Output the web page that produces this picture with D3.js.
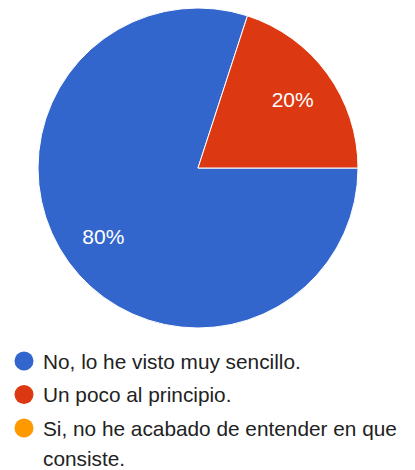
<!DOCTYPE html>
<html>
<head>
<meta charset="utf-8">
<script src="https://cdn.jsdelivr.net/npm/d3@7"></script>
<style>
  html, body { margin: 0; padding: 0; background: #fff; }
  svg { display: block; }
</style>
</head>
<body>
<svg id="chart" width="415" height="470"></svg>
<script>
// Survey answers and their shares (percent)
const categories = [
  "No, lo he visto muy sencillo.",
  "Un poco al principio.",
  "Si, no he acabado de entender en que consiste."
];
const values = [80, 20, 0];
const colors = ["#3366cc", "#dc3912", "#ff9900"];
// Legend lines (the last answer wraps onto two lines)
const legendLines = [
  ["No, lo he visto muy sencillo."],
  ["Un poco al principio."],
  ["Si, no he acabado de entender en que", "consiste."]
];

const svg = d3.select("#chart");
const cx = 198, cy = 168, R = 160, labelR = 117;
const font = "'Liberation Sans', Arial, sans-serif";

const data = categories.map((c, i) => ({ name: c, value: values[i], color: colors[i] }));

// Pie starts at 3 o'clock and runs clockwise
const pie = d3.pie()
  .value(d => d.value)
  .sort(null)
  .startAngle(Math.PI / 2)
  .endAngle(Math.PI / 2 + 2 * Math.PI);

const arcs = pie(data).filter(a => a.data.value > 0);
const arc = d3.arc().innerRadius(0).outerRadius(R);
const labelArc = d3.arc().innerRadius(labelR).outerRadius(labelR);

const g = svg.append("g").attr("transform", `translate(${cx},${cy})`);

g.selectAll("path.slice")
  .data(arcs)
  .join("path")
  .attr("class", "slice")
  .attr("d", arc)
  .attr("fill", d => d.data.color)
  .attr("stroke", "#fff")
  .attr("stroke-width", 1);

const total = d3.sum(values);
g.selectAll("text.pct")
  .data(arcs)
  .join("text")
  .attr("class", "pct")
  .attr("transform", d => `translate(${labelArc.centroid(d)})`)
  .attr("text-anchor", "middle")
  .attr("dominant-baseline", "central")
  .attr("font-family", font)
  .attr("font-size", 21)
  .attr("fill", "#fff")
  .text(d => Math.round(d.data.value / total * 100) + "%");

// Legend
const legendX = 24, textX = 43, rowY0 = 361, rowGap = 33.5, lineGap = 30;
const legend = svg.append("g");
let y = rowY0;
data.forEach((d, i) => {
  const row = legend.append("g");
  row.append("circle")
    .attr("cx", legendX).attr("cy", y).attr("r", 9.5)
    .attr("fill", d.color);
  legendLines[i].forEach((line, j) => {
    row.append("text")
      .attr("x", textX)
      .attr("y", y + j * lineGap)
      .attr("dominant-baseline", "central")
      .attr("font-family", font)
      .attr("font-size", 20.8)
      .attr("fill", "#222")
      .text(line);
  });
  y += rowGap;
});
</script>
</body>
</html>
